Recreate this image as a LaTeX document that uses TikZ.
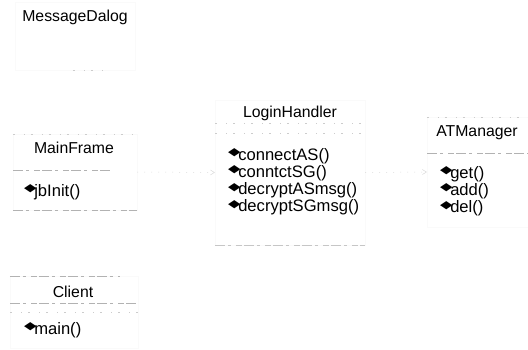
\documentclass[tikz,border=0pt]{standalone}
\usepackage{graphicx}
\usepackage{fontspec}
\setmainfont{Liberation Sans}
\newfontfamily\symfont{DejaVu Sans}
\usetikzlibrary{arrows.meta}
% operation marker: small filled diamond in front of each method
\newcommand\opmark{\raisebox{4.6pt}{\scalebox{1.35}[0.9]{\symfont\fontsize{12}{12}\selectfont ◆}}\kern-2.4pt}
\tikzset{
  classname/.style={font=\fontsize{15.8}{18}\selectfont, inner sep=0pt},
  method/.style={font=\fontsize{16.6}{18}\selectfont, inner sep=0pt, anchor=base west},
  classbox/.style={draw=gray!4, line width=0.3pt, rectangle, inner sep=0pt},
  rule/.style={draw=gray!60, line width=0.7pt, dash pattern=on 10pt off 3pt on 3pt off 5pt on 6pt off 2pt},
  faintrule/.style={draw=gray!40, line width=0.6pt, dash pattern=on 2pt off 9pt on 1pt off 6pt},
  dep/.style={draw=gray!30, line width=0.5pt, dash pattern=on 1pt off 6pt, -{Straight Barb[length=4pt,width=5pt]}},
}
\begin{document}
\begin{tikzpicture}[x=1pt,y=-1pt]
\useasboundingbox (0,0) rectangle (528,349);

% ---- MessageDalog ----
\node[classbox, minimum width=120pt, minimum height=68pt] (mdbox) at (75,36) {};
\node[classname] (md) at (75,17) {MessageDalog};
\draw[faintrule] ([xshift=58pt]mdbox.south west) -- ([xshift=88pt]mdbox.south west);

% ---- MainFrame ----
\node[classbox, minimum width=124pt, minimum height=76pt] (mfbox) at (75,172) {};
\node[classname] (mf) at (74,147.5) {MainFrame};
\coordinate (mfs1) at (13,170);
\coordinate (mfs1e) at (110,170);
\draw[rule] (mfs1) -- (mfs1e);
\draw[rule] (mfbox.south west) -- (mfbox.south east);
\draw[faintrule] (mfbox.north west) -- (mfbox.north east);
\node[method] (mfm1) at (24,196) {\opmark jbInit()};

% ---- LoginHandler ----
\node[classbox, minimum width=150pt, minimum height=145pt] (lhbox) at (290,172.5) {};
\node[classname] (lh) at (290,113) {LoginHandler};
\coordinate (lhs1w) at (215,123);
\coordinate (lhs1e) at (365,123);
\coordinate (lhs2w) at (215,133);
\coordinate (lhs2e) at (365,133);
\draw[faintrule] (lhs1w) -- (lhs1e);
\draw[faintrule] (lhs2w) -- (lhs2e);
\draw[rule, draw=gray!45] (lhbox.south west) -- (lhbox.south east);
\node[method] (lhm1) at (228,160) {\opmark connectAS()};
\node[method] (lhm2) at (228,177.3) {\opmark conntctSG()};
\node[method] (lhm3) at (228,194.6) {\opmark decryptASmsg()};
\node[method] (lhm4) at (228,211.9) {\opmark decryptSGmsg()};

% ---- ATManager ----
\node[classbox, minimum width=103pt, minimum height=110pt] (atbox) at (478.5,172) {};
\node[classname] (at) at (477,132.5) {ATManager};
\coordinate (ats1w) at (427,153);
\coordinate (ats1e) at (528,153);
\draw[rule] (ats1w) -- (ats1e);
\draw[faintrule] (atbox.north west) -- (atbox.north east);
\node[method] (atm1) at (440,178) {\opmark get()};
\node[method] (atm2) at (440,195.3) {\opmark add()};
\node[method] (atm3) at (440,212.6) {\opmark del()};

% ---- Client ----
\node[classbox, minimum width=128pt, minimum height=72pt] (clbox) at (74,312) {};
\node[classname] (cl) at (73,292) {Client};
\coordinate (cls1w) at (10,303);
\coordinate (cls1e) at (138,303);
\coordinate (cls2w) at (10,312);
\coordinate (cls2e) at (138,312);
\draw[rule] (clbox.north west) -- ([xshift=-18pt]clbox.north east);
\draw[rule] (cls1w) -- (cls1e);
\draw[faintrule] (cls2w) -- (cls2e);
\node[method] (clm1) at (24,334.5) {\opmark main()};

% ---- dependencies ----
\draw[dep] (mfbox.east) -- (lhbox.west);
\draw[dep] (lhbox.east) -- (atbox.west);
\end{tikzpicture}
\end{document}
